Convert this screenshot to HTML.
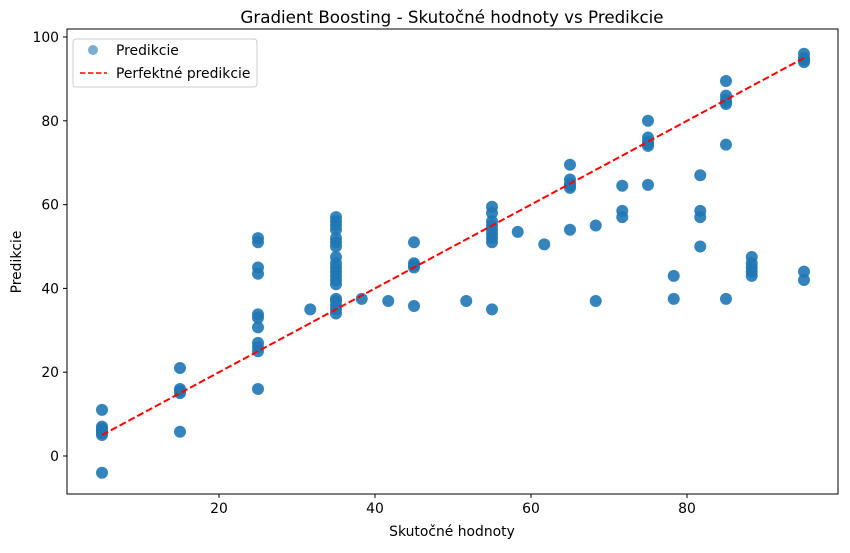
<!DOCTYPE html>
<html><head><meta charset="utf-8"><style>
body{margin:0;background:#fff;}
svg text{font-family:"DejaVu Sans","Liberation Sans",sans-serif;}
</style></head><body>
<svg id="chart" width="850" height="548" viewBox="0 0 850 548" xmlns="http://www.w3.org/2000/svg">
<rect width="850" height="548" fill="#fff"/>
<text x="452" y="23" font-size="16.7" text-anchor="middle">Gradient Boosting - Skutočné hodnoty vs Predikcie</text>
<g id="marks"></g>
<rect x="67" y="29" width="771" height="465" fill="none" stroke="#000" stroke-width="1"/>
<g id="axes"></g>
<text x="452" y="536" font-size="13.9" text-anchor="middle">Skutočné hodnoty</text>
<text transform="translate(21,262) rotate(-90)" font-size="13.9" text-anchor="middle">Predikcie</text>
<g>
<rect x="73" y="39" width="184" height="48" rx="3" fill="#fff" fill-opacity="0.8" stroke="#ccc"/>
<circle cx="93" cy="50" r="5" fill="#1f77b4" fill-opacity="0.6"/>
<text x="116" y="55" font-size="13.9">Predikcie</text>
<line x1="80" y1="73" x2="107" y2="73" stroke="red" stroke-width="1.5" stroke-dasharray="5.5,2.5"/>
<text x="116" y="78" font-size="13.9">Perfektné predikcie</text>
</g>
</svg>
<script>
const xCats=[5,15,25,31.7,35,38.3,41.7,45,51.7,55,58.3,61.7,65,68.3,71.7,75,78.3,81.7,85,88.3,95];
const yVals=[
[11,7,6.5,6,5.5,5,-4],
[21,16,15.5,15,5.8],
[52,51,45,43.5,33.8,33,30.7,27,26,25,16],
[35],
[57,56,55,54,52,51,50,47.5,46,45,44,43,42,41,37.5,37,36,35,34],
[37.5],[37],
[51,46,45.5,45,35.8],
[37],
[59.5,58,56,55,54,53,52,51,35],
[53.5],[50.5],
[69.5,66,65,64.5,64,54],
[55,37],
[64.5,58.5,57],
[80,76,75,74.5,74,64.7],
[43,37.5],
[67,58.5,57,50],
[89.5,86,85,84.5,84,74.3,37.5],
[47.5,46,45,44,43],
[96,95,94.5,94,44,42]];
const xTicks=[20,40,60,80];
const yTicks=[0,20,40,60,80,100];
const lineRange=[5,95];
const sx=v=>63+v*7.8, sy=v=>456-v*4.19;
const NS="http://www.w3.org/2000/svg";
const marks=document.getElementById('marks'), axes=document.getElementById('axes');
function mk(tag,attrs,parent){const e=document.createElementNS(NS,tag);for(const k in attrs)e.setAttribute(k,attrs[k]);parent.appendChild(e);return e;}
xCats.forEach((x,i)=>yVals[i].forEach(y=>{
 const c=mk('circle',{cx:sx(x),cy:sy(y),r:6,fill:'#1f77b4','fill-opacity':0.9},marks);
 
 
}));
const ln=mk('line',{x1:sx(lineRange[0]),y1:sy(lineRange[0]),x2:sx(lineRange[1]),y2:sy(lineRange[1]),stroke:'red','stroke-width':2,'stroke-dasharray':'7,3'},marks);


xTicks.forEach(t=>{
 const g=mk('g',{},axes);
 
 
 mk('line',{x1:sx(t),x2:sx(t),y1:494,y2:498,stroke:'#000'},g);
 const tx=mk('text',{x:sx(t),y:513,'font-size':13.9,'text-anchor':'middle'},g);tx.textContent=t;
});
yTicks.forEach(t=>{
 const g=mk('g',{},axes);
 
 
 mk('line',{x1:63,x2:67,y1:sy(t),y2:sy(t),stroke:'#000'},g);
 const tx=mk('text',{x:59,y:sy(t)+5,'font-size':13.9,'text-anchor':'end'},g);tx.textContent=t;
});
</script>
</body></html>
